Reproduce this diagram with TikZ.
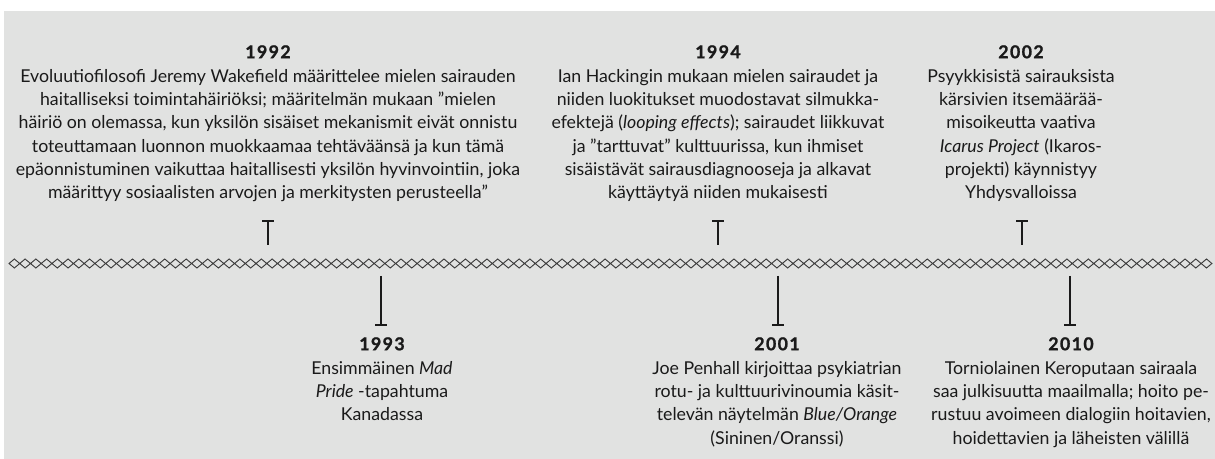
\documentclass[tikz,border=0pt]{standalone}
\usepackage{fontspec}
\setmainfont{Lato}
\definecolor{bg}{HTML}{E1E2E1}
\definecolor{ink}{HTML}{1A1A1A}
\newcommand{\yr}[1]{{\addfontfeatures{LetterSpace=8,FakeBold=1.2}\bfseries #1}\\[0.5pt]}
\begin{document}
\begin{tikzpicture}[x=0.75pt,y=-0.75pt,
  event/.style={align=center,inner sep=0pt,text=ink,anchor=north,
    font=\fontsize{13.3}{17.5}\selectfont},
  tick/.style={draw=ink,line width=1.5pt},
  chain/.style={draw=ink!85,line width=0.7pt,line join=miter}]
\useasboundingbox (0,0) rectangle (1215,459);
\fill[white] (0,0) rectangle (1215,459);
\fill[bg] (4,11) rectangle (1215,459);
% diamond chain
\pgfmathsetmacro{\dw}{10.74}
\foreach \i in {0,...,111}{
  \pgfmathsetmacro{\xa}{9+\i*\dw}
  \draw[chain] (\xa,263.5) -- ++(\dw/2,-4.5) -- ++(\dw/2,4.5) -- ++(-\dw/2,4.5) -- cycle;
}
% upper markers
\foreach \n/\x in {a/268,b/718,c/1022}{
  \coordinate (\n top) at (\x,221);
  \coordinate (\n bot) at (\x,245);
  \draw[tick] (\n top) -- (\n bot);
  \draw[tick] ([xshift=-4.5pt]\n top) -- ([xshift=4.5pt]\n top);
}
% lower markers
\foreach \n/\x in {d/381,e/778,f/1070}{
  \coordinate (\n top) at (\x,276);
  \coordinate (\n bot) at (\x,325);
  \draw[tick] (\n top) -- (\n bot);
  \draw[tick] ([xshift=-4.5pt]\n bot) -- ([xshift=4.5pt]\n bot);
}
\node[event] (e1992) at (268,45) {\yr{1992}
Evoluutiofilosofi Jeremy Wakefield määrittelee mielen sairauden\\
haitalliseksi toimintahäiriöksi; määritelmän mukaan ”mielen\\
häiriö on olemassa, kun yksilön sisäiset mekanismit eivät onnistu\\
toteuttamaan luonnon muokkaamaa tehtäväänsä ja kun tämä\\
epäonnistuminen vaikuttaa haitallisesti yksilön hyvinvointiin, joka\\
määrittyy sosiaalisten arvojen ja merkitysten perusteella”};
\node[event] (e1994) at (718,45) {\yr{1994}
Ian Hackingin mukaan mielen sairaudet ja\\
niiden luokitukset muodostavat silmukka-\\
efektejä (\textit{looping effects}); sairaudet liikkuvat\\
ja ”tarttuvat” kulttuurissa, kun ihmiset\\
sisäistävät sairausdiagnooseja ja alkavat\\
käyttäytyä niiden mukaisesti};
\node[event] (e2002) at (1021,45) {\yr{2002}
Psyykkisistä sairauksista\\
kärsivien itsemäärää-\\
misoikeutta vaativa\\
\textit{Icarus Project} (Ikaros-\\
projekti) käynnistyy\\
Yhdysvalloissa};
\node[event] (e1993) at (382,337) {\yr{1993}
Ensimmäinen \textit{Mad}\\
\textit{Pride} -tapahtuma\\
Kanadassa};
\node[event] (e2001) at (777,337) {\yr{2001}
Joe Penhall kirjoittaa psykiatrian\\
rotu- ja kulttuurivinoumia käsit-\\
televän näytelmän \textit{Blue/Orange}\\
(Sininen/Oranssi)};
\node[event] (e2010) at (1071,337) {\yr{2010}
Torniolainen Keroputaan sairaala\\
saa julkisuutta maailmalla; hoito pe-\\
rustuu avoimeen dialogiin hoitavien,\\
hoidettavien ja läheisten välillä};
\end{tikzpicture}
\end{document}
